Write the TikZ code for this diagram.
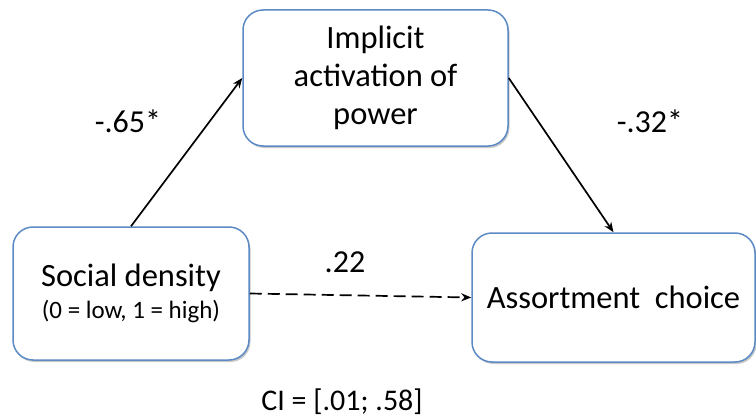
\documentclass[tikz,border=0pt]{standalone}
\usepackage{fontspec}
\setmainfont{Carlito}
\usetikzlibrary{arrows.meta,shadows}
\begin{document}
\begin{tikzpicture}[x=1pt,y=-1pt,
  varbox/.style={draw=boxblue, line width=1.5pt, rounded corners=20pt, fill=white,
    drop shadow={shadow xshift=1.5pt, shadow yshift=-2pt, opacity=0.35, fill=black!60},
    align=center, inner sep=0pt, font=\fontsize{32.5}{38}\selectfont},
  path/.style={draw=black, line width=1.7pt, -{Stealth[length=10pt,width=8pt]}},
  coef/.style={font=\fontsize{32}{36}\selectfont, inner sep=0pt}]
\definecolor{boxblue}{RGB}{92,138,196}
\useasboundingbox (0,0) rectangle (756,420);
\node[varbox, minimum width=265pt, minimum height=136pt] (med) at (375.5,78)
  {Implicit\\activation of\\power};
\node[varbox, minimum width=236pt, minimum height=133pt] (iv) at (131,293.5)
  {\raisebox{-4pt}{Social density}\\[-2pt]{\fontsize{25}{30}\selectfont (0 = low, 1 = high)}};
\node[varbox, minimum width=283pt, minimum height=129pt] (dv) at (613.5,297.5)
  {Assortment\ \ choice};
\draw[path] (iv.north) -- (med.west);
\draw[path] (med.east) -- (dv.north);
\draw[path, dashed, dash pattern=on 12pt off 6pt] (iv.east) -- (dv.west);
\node[coef] (a) at (128,121) {-.65*};
\node[coef] (b) at (650,121) {-.32*};
\node[coef] (c) at (345,262) {.22};
\node[coef, font=\fontsize{30}{34}\selectfont] (ci) at (342,402) {CI = [.01; .58]};
\end{tikzpicture}
\end{document}
